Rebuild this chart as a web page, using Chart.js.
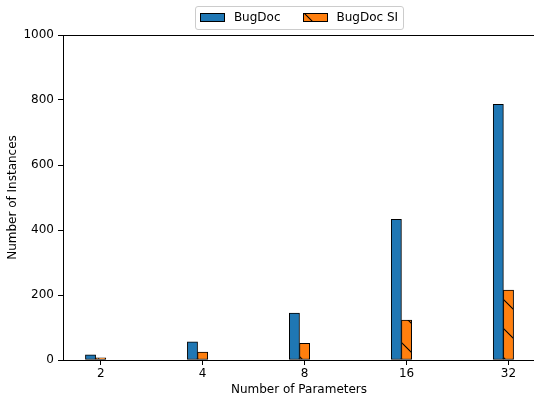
<!DOCTYPE html>
<html>
<head>
<meta charset="utf-8">
<script src="https://cdn.jsdelivr.net/npm/chart.js@4.4.1/dist/chart.umd.min.js"></script>
<style>
  html, body { margin: 0; padding: 0; overflow: hidden; background: #fff; }
  canvas { display: block; }
</style>
</head>
<body>
<canvas id="c" width="537" height="398"></canvas>
<script>
// Instances found per number of parameters
const parameterCounts = ['2', '4', '8', '16', '32'];
const bugDocCounts    = [16, 56, 144, 433, 787];
const bugDocSICounts  = [7, 24, 51, 123, 215];
const seriesNames     = ['BugDoc', 'BugDoc SI'];
const yTickValues     = [0, 200, 400, 600, 800, 1000];

const BAR_W = 0.1;                 // bar width, in x-axis units
const X_MIN = -0.37, X_MAX = 4.26; // x-axis limits
const FONT = 'DejaVu Sans';
const FONT_SIZE = 12;

// Orange fill with sparse "\" hatching
function hatchPattern(ctx, bg) {
  const s = 29;
  const tile = document.createElement('canvas');
  tile.width = s; tile.height = s;
  const t = tile.getContext('2d');
  t.fillStyle = bg;
  t.fillRect(0, 0, s, s);
  t.strokeStyle = '#000';
  t.lineWidth = 1.1;
  t.beginPath();
  for (let k = -1; k <= 1; k++) {
    t.moveTo(-2, -2 + k * s);
    t.lineTo(s + 2, s + 2 + k * s);
  }
  t.stroke();
  const p = ctx.createPattern(tile, 'repeat');
  p.setTransform(new DOMMatrix().translate(0, -1));
  return p;
}

// Top/right spines and the framed legend above the plot
const frameAndLegend = {
  id: 'frameAndLegend',
  afterDraw(chart) {
    const { ctx, chartArea: a } = chart;
    ctx.save();
    ctx.strokeStyle = '#000';
    ctx.lineWidth = 1;
    ctx.beginPath();
    const ty = Math.round(a.top) + 0.5;
    const rx = Math.round(a.right) - 0.5;
    ctx.moveTo(a.left, ty); ctx.lineTo(a.right, ty);
    ctx.moveTo(rx, a.top); ctx.lineTo(rx, a.bottom);
    ctx.stroke();

    ctx.font = FONT_SIZE + 'px "' + FONT + '"';
    const ds = chart.data.datasets;
    const patchW = 25, patchH = 9, gapText = 9, gapItem = 22, padL = 5, padR = 5;
    const widths = ds.map(d => ctx.measureText(d.label).width);
    let total = padL + padR;
    widths.forEach((w, i) => { total += patchW + gapText + w + (i < widths.length - 1 ? gapItem : 0); });
    const cx = (a.left + a.right) / 2;
    const left = cx - total / 2;
    const top = 6.5, h = 23;

    ctx.beginPath();
    ctx.roundRect(Math.round(left) + 0.5, top, Math.round(total), h, 2.5);
    ctx.fillStyle = 'rgba(255,255,255,0.8)';
    ctx.fill();
    ctx.strokeStyle = '#cccccc';
    ctx.stroke();

    let x = left + padL;
    const midY = 17.5;
    ds.forEach((d, i) => {
      const px = Math.round(x);
      ctx.fillStyle = d.backgroundColor;
      ctx.fillRect(px, 13, patchW, patchH);
      ctx.strokeStyle = '#000';
      ctx.lineWidth = 1;
      ctx.strokeRect(px + 0.5, 13.5, patchW - 1, patchH - 1);
      ctx.fillStyle = '#000';
      ctx.textBaseline = 'middle';
      ctx.textAlign = 'left';
      ctx.fillText(d.label, x + patchW + gapText, midY);
      x += patchW + gapText + widths[i] + gapItem;
    });
    ctx.restore();
  }
};

const ctx = document.getElementById('c').getContext('2d');
const siFill = hatchPattern(ctx, '#ff7f0e');

const barCommon = {
  borderColor: '#000',
  borderWidth: 1,
  borderSkipped: false,
  grouped: false,
  categoryPercentage: 1,
  barPercentage: 1
};

new Chart(ctx, {
  type: 'bar',
  data: {
    datasets: [
      Object.assign({
        label: seriesNames[0],
        data: bugDocCounts.map((v, i) => ({ x: i - BAR_W, y: v })),
        backgroundColor: '#1f77b4'
      }, barCommon),
      Object.assign({
        label: seriesNames[1],
        data: bugDocSICounts.map((v, i) => ({ x: i, y: v })),
        backgroundColor: siFill
      }, barCommon)
    ]
  },
  options: {
    responsive: false,
    animation: false,
    devicePixelRatio: 1,
    layout: { padding: { top: 35, right: 2, bottom: 0, left: 0 } },
    plugins: { legend: { display: false }, tooltip: { enabled: false } },
    scales: {
      x: {
        type: 'linear',
        min: X_MIN,
        max: X_MAX,
        offset: false,
        grid: { display: true, drawOnChartArea: false, drawTicks: true, tickLength: 5, color: '#000', lineWidth: 1, offset: false },
        border: { display: true, color: '#000', width: 1 },
        afterBuildTicks: s => { s.ticks = parameterCounts.map((_, i) => ({ value: i })); },
        ticks: {
          callback: v => parameterCounts[v] ?? '',
          font: { family: FONT, size: FONT_SIZE },
          color: '#000',
          padding: 2,
          maxRotation: 0,
          autoSkip: false
        },
        title: {
          display: true,
          text: 'Number of Parameters',
          font: { family: FONT, size: FONT_SIZE },
          color: '#000',
          padding: { top: 0, bottom: 1 }
        },
        afterFit: s => { s.height = 38; }
      },
      y: {
        min: 0,
        max: 1000,
        grid: { display: true, drawOnChartArea: false, drawTicks: true, tickLength: 5, color: '#000', lineWidth: 1 },
        border: { display: true, color: '#000', width: 1 },
        afterBuildTicks: s => { s.ticks = yTickValues.map(v => ({ value: v })); },
        ticks: {
          callback: v => String(v),
          font: { family: FONT, size: FONT_SIZE },
          color: '#000',
          padding: 4
        },
        title: {
          display: true,
          text: 'Number of Instances',
          font: { family: FONT, size: FONT_SIZE },
          color: '#000',
          padding: { top: 6, bottom: 0 }
        },
        afterFit: s => { s.width = 63; }
      }
    }
  },
  plugins: [frameAndLegend]
});
</script>
</body>
</html>
